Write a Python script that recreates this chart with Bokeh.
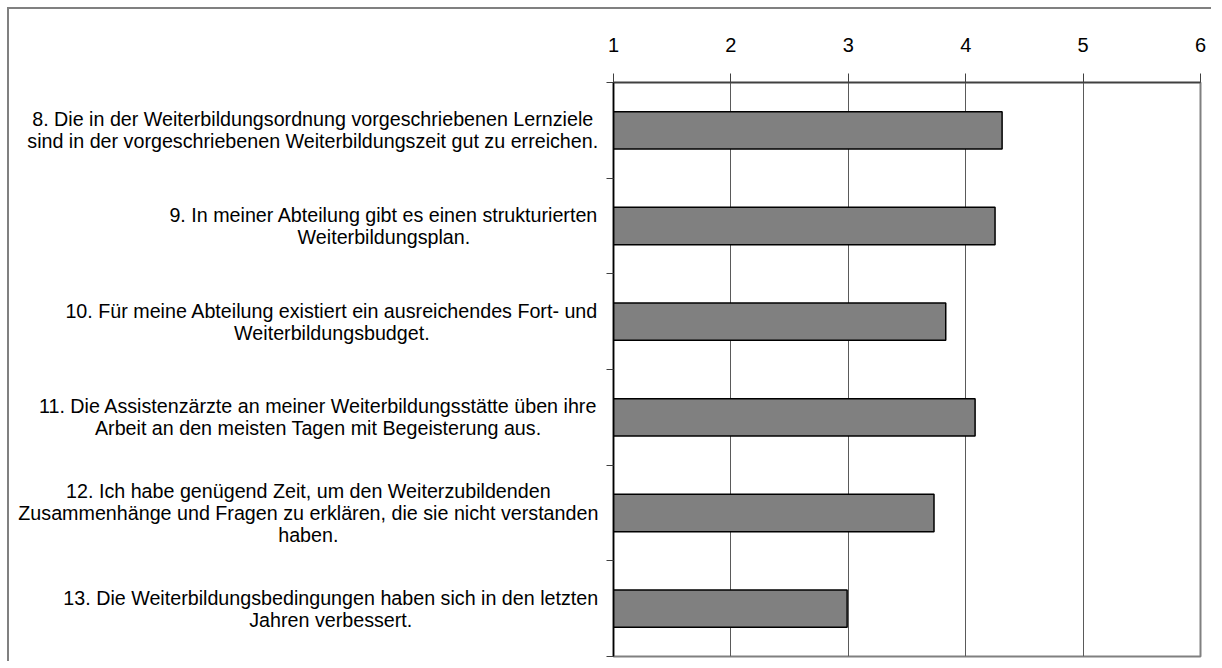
from bokeh.plotting import figure
from bokeh.models import Range1d, FixedTicker
from bokeh.layouts import row
from bokeh.core.properties import value
from bokeh.embed import file_html
from bokeh.resources import INLINE

# ---- data ----
categories = [
    "8. Die in der Weiterbildungsordnung vorgeschriebenen Lernziele\nsind in der vorgeschriebenen Weiterbildungszeit gut zu erreichen.",
    "9. In meiner Abteilung gibt es einen strukturierten\nWeiterbildungsplan.",
    "10. Für meine Abteilung existiert ein ausreichendes Fort- und\nWeiterbildungsbudget.",
    "11. Die Assistenzärzte an meiner Weiterbildungsstätte üben ihre\nArbeit an den meisten Tagen mit Begeisterung aus.",
    "12. Ich habe genügend Zeit, um den Weiterzubildenden\nZusammenhänge und Fragen zu erklären, die sie nicht verstanden\nhaben.",
    "13. Die Weiterbildungsbedingungen haben sich in den letzten\nJahren verbessert.",
]
values = [4.31, 4.25, 3.83, 4.08, 3.73, 2.99]
x_ticks = [1, 2, 3, 4, 5, 6]
x_tick_labels = ["1", "2", "3", "4", "5", "6"]

FONT = "Liberation Sans"
FS = 19.7   # px, category labels
FS_T = 20   # px, tick labels

# Arial / Liberation Sans advance widths (per 1000 em)
W = {' ': 278, '.': 278, ',': 278, '-': 333, '!': 278}
for c in "0123456789":
    W[c] = 556
W.update(dict(A=667, B=667, C=722, D=722, E=667, F=611, G=778, H=722, I=278, J=500, K=667,
              L=556, M=833, N=722, O=778, P=667, Q=778, R=722, S=667, T=611, U=722, V=667,
              W=944, X=667, Y=667, Z=611))
W.update(dict(a=556, b=556, c=500, d=556, e=556, f=278, g=556, h=556, i=222, j=222, k=500,
              l=222, m=833, n=556, o=556, p=556, q=556, r=333, s=500, t=278, u=556, v=500,
              w=722, x=500, y=500, z=500))
W.update({'ä': 556, 'ö': 556, 'ü': 556, 'ß': 611})


def text_w(s):
    return sum(W.get(ch, 556) for ch in s) / 1000.0 * FS


n = len(categories)
ypos = [i + 0.5 for i in range(n)]
yr = Range1d(n, 0)

H = 652
TOP = 73
BOTTOM = 5
LW = 592

# ---- main chart ----
p = figure(width=610, height=H, output_backend="svg", toolbar_location=None,
           x_range=Range1d(1, 6), y_range=yr, x_axis_location="above",
           min_border_left=12, min_border_right=11, min_border_top=TOP, min_border_bottom=BOTTOM)
p.background_fill_color = "white"
p.border_fill_color = "white"
p.outline_line_color = "#808080"
p.outline_line_width = 2

p.hbar(y=ypos, left=1, right=values, height=0.39, fill_color="#808080",
       line_color="black", line_width=1.5)

xa = p.xaxis[0]
xa.ticker = FixedTicker(ticks=x_ticks)
xa.major_label_overrides = {t: l for t, l in zip(x_ticks, x_tick_labels)}
xa.major_label_text_font = FONT
xa.major_label_text_font_size = f"{FS_T}px"
xa.major_label_text_color = "black"
xa.major_label_standoff = 22
xa.axis_line_color = "#404040"
xa.axis_line_width = 1.5
xa.major_tick_line_color = "#404040"
xa.major_tick_out = 9
xa.major_tick_in = 0
xa.minor_tick_line_color = None

ya = p.yaxis[0]
ya.ticker = FixedTicker(ticks=list(range(n + 1)))
ya.major_label_text_font_size = "0px"
ya.major_label_text_color = None
ya.major_label_standoff = 0
ya.axis_line_color = "black"
ya.axis_line_width = 1.5
ya.major_tick_line_color = "#404040"
ya.major_tick_out = 7
ya.major_tick_in = 0
ya.minor_tick_line_color = None

p.xgrid.ticker = FixedTicker(ticks=x_ticks)
p.xgrid.grid_line_color = "#5a5a5a"
p.xgrid.grid_line_width = 1
p.ygrid.grid_line_color = None

# ---- category label panel ----
lp = figure(width=LW, height=H, output_backend="svg", toolbar_location=None,
            x_range=Range1d(0, LW), y_range=yr, x_axis_type=None, y_axis_type=None,
            min_border_left=0, min_border_right=0, min_border_top=TOP, min_border_bottom=BOTTOM)
lp.outline_line_color = None
lp.grid.grid_line_color = None
lp.background_fill_color = "white"
lp.border_fill_color = "white"

right_edge = LW - 3  # text block ends a little left of the axis
lx = [right_edge - max(text_w(line) for line in t.split("\n")) / 2 for t in categories]
lp.text(x=lx, y=ypos, text=categories, text_align="center", text_baseline="middle",
        text_font=value(FONT), text_font_size=f"{FS}px", text_line_height=1.0,
        text_color="black")

layout = row(lp, p, spacing=0)
layout.styles = {"margin-left": "7px", "margin-top": "7px",
                 "border-left": "2px solid #808080", "border-top": "2px solid #808080"}

open("out.html", "w").write(file_html(layout, INLINE))
